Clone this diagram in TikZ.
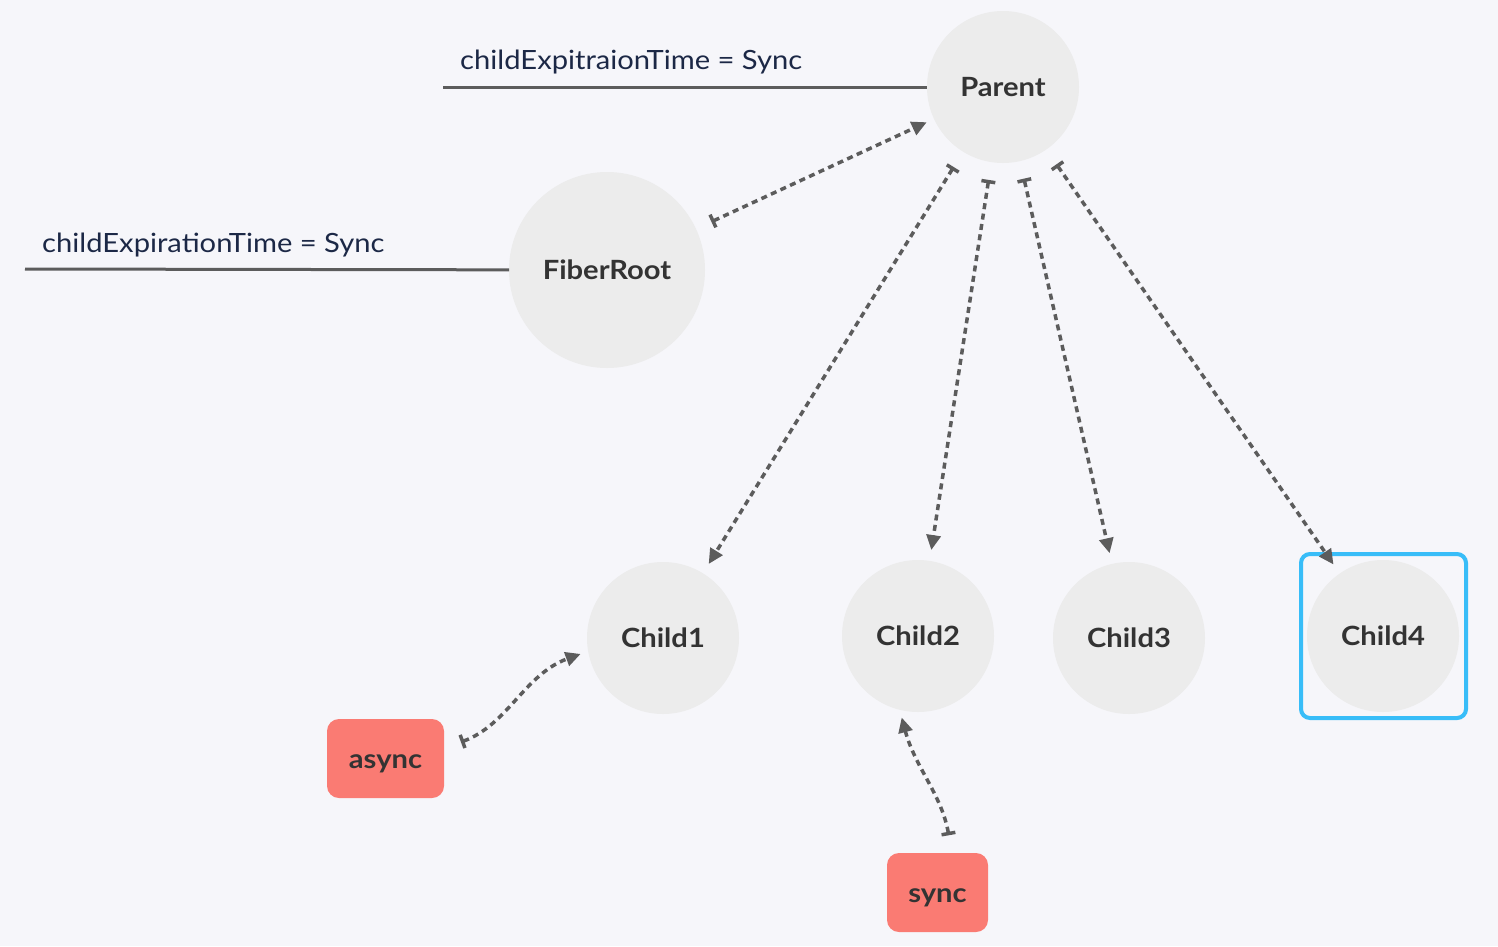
\documentclass[tikz,border=0pt]{standalone}
\usepackage{fontspec}
\setmainfont{Lato}[FakeStretch=1.1]
\usepackage{xcolor}
\usetikzlibrary{arrows.meta}
\definecolor{bgcolor}{RGB}{246,246,250}
\definecolor{fibergray}{RGB}{236,236,236}
\definecolor{linkgray}{RGB}{92,92,92}
\definecolor{tagred}{RGB}{250,123,115}
\definecolor{labelnavy}{RGB}{28,40,70}
\definecolor{fibertext}{RGB}{51,51,51}
\definecolor{selblue}{RGB}{56,189,248}

\begin{document}
\begin{tikzpicture}[x=1pt, y=1pt,
		fiber/.style={circle, fill=fibergray, minimum size=152pt, inner sep=0pt, outer sep=0pt,
			text=fibertext, font=\fontsize{26.5}{31}\selectfont\bfseries},
		tag/.style={rectangle, rounded corners=12pt, fill=tagred, minimum height=79pt, inner sep=0pt,
			outer sep=0pt, text height=19pt, text depth=0pt, text=fibertext,
			font=\fontsize{26.5}{31}\selectfont\bfseries},
		note/.style={anchor=base west, inner sep=0pt, text=labelnavy, font=\fontsize{26.5}{31}\selectfont},
		link/.style={draw=linkgray, line width=3.5pt, dash pattern=on 6pt off 4.5pt,
			{Bar[width=14pt]}-{Triangle[length=15pt, width=14pt]}}]
		% Canvas
		\fill [bgcolor] (0,0) rectangle (1498,-946);

		% Fibers
		\node (parent) at (1003,-87) [fiber] {Parent};
		\node (fiberroot) at (607,-270) [fiber, minimum size=196pt] {FiberRoot};
		\node (child1) at (663,-638) [fiber] {Child1};
		\node (child2) at (918,-636) [fiber] {Child2};
		\node (child3) at (1129,-638) [fiber] {Child3};
		\node (child4) at (1383,-636) [fiber] {Child4};
		\draw [selblue, line width=4pt, rounded corners=9pt] (1301,-554) rectangle (1466,-718);

		% Expiration times
		\node (async) at (385.5,-758.5) [tag, minimum width=117pt] {async};
		\node (sync) at (937.5,-892.5) [tag, minimum width=101pt] {sync};

		% Notes
		\coordinate (parentnote) at (443,-87);
		\coordinate (rootnote) at (25,-269);
		\draw [linkgray, line width=3pt] (parentnote) -- (parent);
		\draw [linkgray, line width=3pt] (rootnote) -- (fiberroot);
		\node (parentlabel) at (460,-69) [note] {childExpitraionTime = Sync};
		\node (rootlabel) at (42,-252) [note] {childExpirationTime = Sync};

		% Links
		\draw [link, shorten <=17pt, shorten >=8pt] (fiberroot) -- (parent);
		\foreach \c in {child1,child2,child3,child4}
			\draw [link, shorten <=18pt, shorten >=11pt] (parent) -- (\c);
		\draw [link, shorten <=18pt, shorten >=8pt] (async.10) to[out=20, in=200] (child1.190);
		\draw [link, shorten <=18pt, shorten >=8pt] (sync.70) to[out=100, in=-75] (child2.256);
	\end{tikzpicture}
\end{document}
